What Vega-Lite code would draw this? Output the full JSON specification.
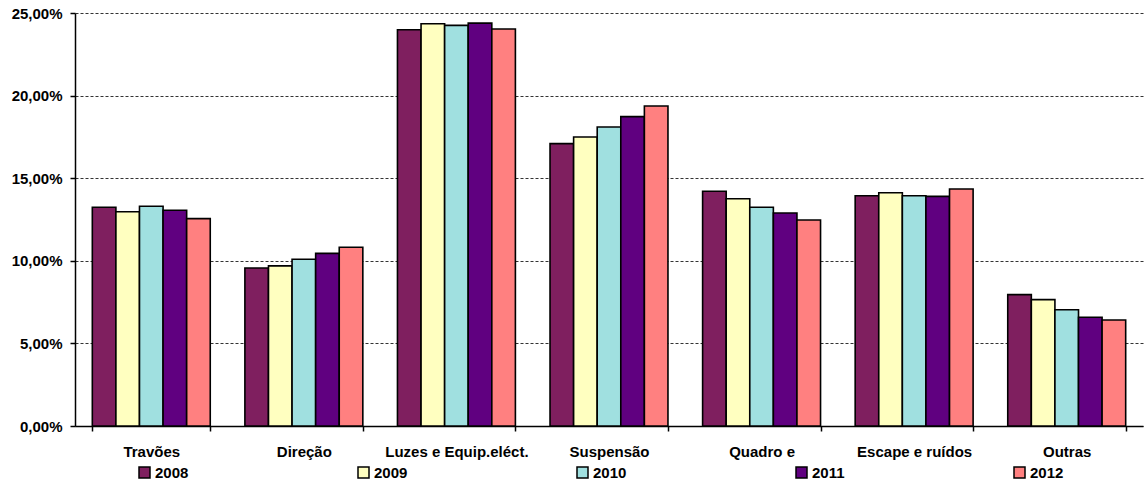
{
  "$schema": "https://vega.github.io/schema/vega-lite/v6.json",
  "width": 1068,
  "height": 413,
  "autosize": {"type": "none"},
  "padding": {"left": 75, "top": 13, "right": 1, "bottom": 58},
  "background": "white",
  "config": {
    "view": {"stroke": null},
    "font": "Liberation Sans",
    "axis": {"labelFont": "Liberation Sans", "labelFontWeight": "bold", "labelFontSize": 15, "labelColor": "black", "domainColor": "black", "domainWidth": 1.5, "tickColor": "black", "tickWidth": 1.5}
  },
  "data": {
    "values": [
      {"cat": "Travões", "ano": "2008", "v": 0.1324},
      {"cat": "Travões", "ano": "2009", "v": 0.1297},
      {"cat": "Travões", "ano": "2010", "v": 0.1330},
      {"cat": "Travões", "ano": "2011", "v": 0.1306},
      {"cat": "Travões", "ano": "2012", "v": 0.1255},
      {"cat": "Direção", "ano": "2008", "v": 0.0956},
      {"cat": "Direção", "ano": "2009", "v": 0.0969},
      {"cat": "Direção", "ano": "2010", "v": 0.1009},
      {"cat": "Direção", "ano": "2011", "v": 0.1045},
      {"cat": "Direção", "ano": "2012", "v": 0.1082},
      {"cat": "Luzes e Equip.eléct.", "ano": "2008", "v": 0.2399},
      {"cat": "Luzes e Equip.eléct.", "ano": "2009", "v": 0.2435},
      {"cat": "Luzes e Equip.eléct.", "ano": "2010", "v": 0.2425},
      {"cat": "Luzes e Equip.eléct.", "ano": "2011", "v": 0.2439},
      {"cat": "Luzes e Equip.eléct.", "ano": "2012", "v": 0.2403},
      {"cat": "Suspensão", "ano": "2008", "v": 0.1709},
      {"cat": "Suspensão", "ano": "2009", "v": 0.1749},
      {"cat": "Suspensão", "ano": "2010", "v": 0.1810},
      {"cat": "Suspensão", "ano": "2011", "v": 0.1873},
      {"cat": "Suspensão", "ano": "2012", "v": 0.1937},
      {"cat": "Quadro e", "ano": "2008", "v": 0.1421},
      {"cat": "Quadro e", "ano": "2009", "v": 0.1376},
      {"cat": "Quadro e", "ano": "2010", "v": 0.1324},
      {"cat": "Quadro e", "ano": "2011", "v": 0.1289},
      {"cat": "Quadro e", "ano": "2012", "v": 0.1247},
      {"cat": "Escape e ruídos", "ano": "2008", "v": 0.1394},
      {"cat": "Escape e ruídos", "ano": "2009", "v": 0.1412},
      {"cat": "Escape e ruídos", "ano": "2010", "v": 0.1394},
      {"cat": "Escape e ruídos", "ano": "2011", "v": 0.1390},
      {"cat": "Escape e ruídos", "ano": "2012", "v": 0.1435},
      {"cat": "Outras", "ano": "2008", "v": 0.0795},
      {"cat": "Outras", "ano": "2009", "v": 0.0765},
      {"cat": "Outras", "ano": "2010", "v": 0.0704},
      {"cat": "Outras", "ano": "2011", "v": 0.0658},
      {"cat": "Outras", "ano": "2012", "v": 0.0642}
    ]
  },
  "mark": {"type": "bar", "stroke": "black", "strokeWidth": 1.6},
  "encoding": {
    "x": {
      "field": "cat", "type": "nominal", "sort": null, "title": null,
      "scale": {"paddingInner": 0.227, "paddingOuter": 0.1135},
      "axis": {"labelAngle": 0, "tickBand": "extent", "tickSize": 5, "labelBaseline": "alphabetic", "labelPadding": 25}
    },
    "xOffset": {"field": "ano", "type": "nominal", "scale": {"paddingInner": 0, "paddingOuter": 0}},
    "y": {
      "field": "v", "type": "quantitative", "title": null,
      "scale": {"domain": [0, 0.25], "nice": false},
      "axis": {
        "values": [0, 0.05, 0.1, 0.15, 0.2, 0.25],
        "labelExpr": "replace(format(datum.value, '.2%'), '.', ',')",
        "tickSize": 5, "labelPadding": 8,
        "grid": true, "gridColor": "#333333", "gridDash": [3, 2], "gridWidth": 1
      }
    },
    "color": {
      "field": "ano", "type": "nominal", "title": null,
      "scale": {"domain": ["2008", "2009", "2010", "2011", "2012"], "range": ["#7F1F5F", "#FFFFC0", "#A0E0E0", "#600080", "#FF8080"]},
      "legend": {
        "orient": "none", "legendX": 62, "legendY": 452, "direction": "horizontal", "columns": 5,
        "columnPadding": 166, "symbolType": "square", "symbolSize": 121, "symbolStrokeColor": "black", "symbolStrokeWidth": 1.5,
        "symbolOpacity": 1, "labelFont": "Liberation Sans", "labelFontWeight": "bold", "labelFontSize": 15, "labelColor": "black", "labelOffset": 3
      }
    }
  }
}
